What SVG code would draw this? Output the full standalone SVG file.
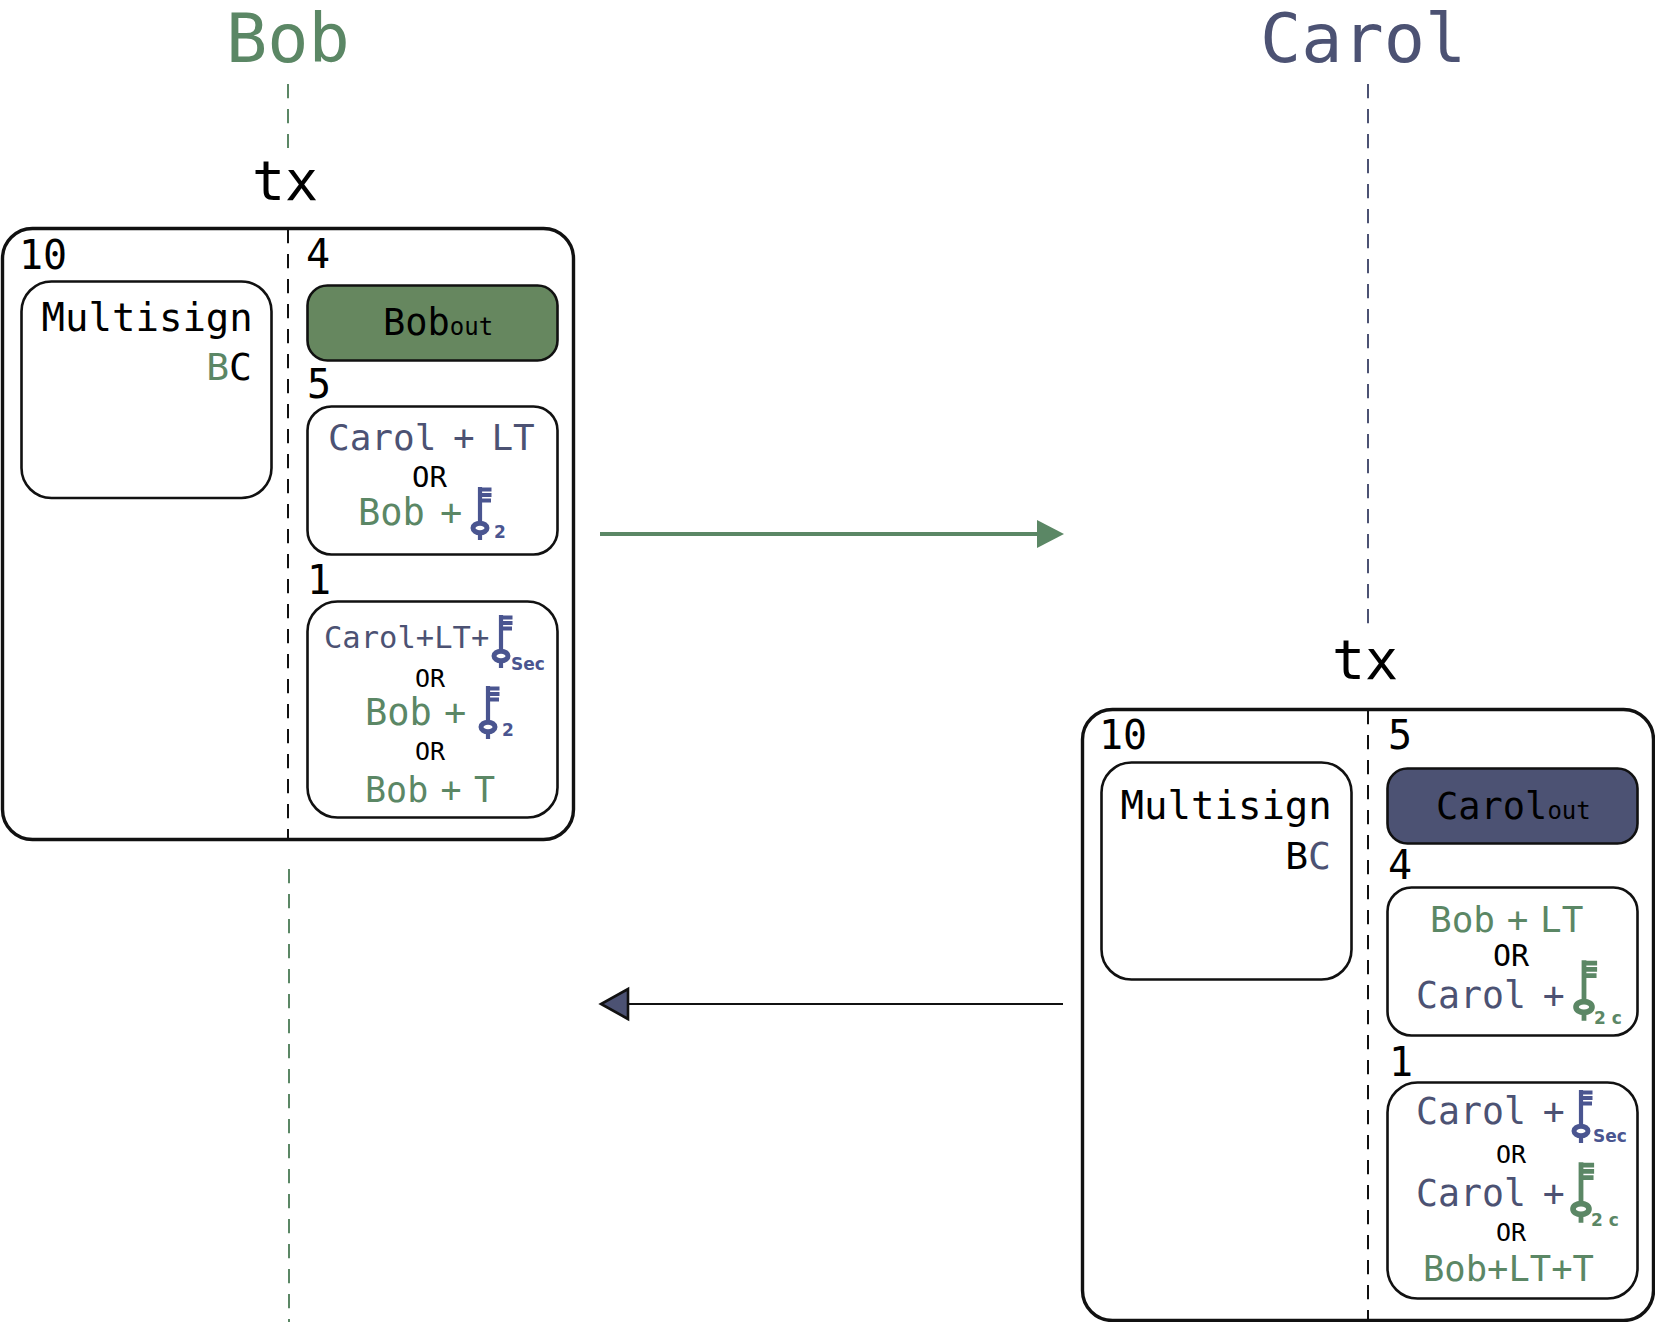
<svg xmlns="http://www.w3.org/2000/svg" xmlns:xlink="http://www.w3.org/1999/xlink" width="1655" height="1322" viewBox="0 0 1655 1322">
<style>
text{font-family:"DejaVu Sans Mono","Liberation Mono",monospace;fill:#000}
.g{fill:#5b8765}.b{fill:#4c5273}
.n{font-size:40px}
.outer{fill:#fff;stroke:#111;stroke-width:3.4}
.inner{fill:#fff;stroke:#111;stroke-width:2.6}
.sub{font-family:"DejaVu Sans",sans-serif;font-weight:700;font-size:17px}
.sb{fill:#4a5590}
.dash{fill:none;stroke-width:2;stroke-dasharray:14.3 10.7}
.kb{stroke:#4a5590;fill:none}.kg{stroke:#5b8765;fill:none}
</style>
<defs>
<marker id="ag" markerUnits="userSpaceOnUse" markerWidth="28" markerHeight="30" refX="0" refY="15" orient="auto"><path d="M0 1L27 15L0 29Z" fill="#5b8765"/></marker>
<marker id="ab" markerUnits="userSpaceOnUse" markerWidth="32" markerHeight="36" refX="2" refY="18" orient="auto"><path d="M2 3L29 18L2 33Z" fill="#4c5273" stroke="#111" stroke-width="2.6"/></marker>
<g id="key"><path d="M0 -41V-6M0 6V12M0 -38.5H11.5M0 -33H11.5M0 -27.5H11" stroke-width="4.2"/><ellipse cx="0" cy="0" rx="7" ry="4.8" stroke-width="5"/></g>
</defs>
<rect width="1655" height="1322" fill="#fff"/>
<g id="connectors">
<path class="dash" stroke="#5b8765" d="M288 84V148"/>
<path class="dash" stroke="#5b8765" d="M289 869V1322"/>
<path class="dash" stroke="#4c5273" d="M1368 84V624"/>
<path d="M600 534H1037" stroke="#5b8765" stroke-width="4" marker-end="url(#ag)"/>
<path d="M1063 1004H628" stroke="#111" stroke-width="2" marker-end="url(#ab)"/>
</g>
<g id="bob-title"><text class="g" x="226" y="62" font-size="68.5">Bob</text></g>
<g id="carol-title"><text class="b" x="1260" y="62" font-size="68.5">Carol</text></g>
<g id="bob-tx">
<text x="252" y="200" font-size="55">tx</text>
<rect class="outer" x="2.5" y="228.5" width="571" height="611" rx="30"/>
<path class="dash" stroke="#111" d="M288 229V839"/>
<text class="n" x="19" y="269">10</text>
<text class="n" x="306" y="268">4</text>
<text class="n" x="307" y="398">5</text>
<text class="n" x="307" y="594">1</text>
</g>
<g id="bob-multisig">
<rect class="inner" x="21.5" y="281.5" width="250" height="216.5" rx="30"/>
<text x="41.5" y="331" font-size="39">Multisign</text>
<text x="252" y="380" font-size="38" text-anchor="end"><tspan class="g">B</tspan>C</text>
</g>
<g id="bob-out">
<rect class="inner" x="307.5" y="285.5" width="250" height="75" rx="20" style="fill:#66875f"/>
<text x="383" y="335" font-size="37">Bob<tspan font-size="24">out</tspan></text>
</g>
<g id="bob-output-5">
<rect class="inner" x="307.5" y="406.5" width="250" height="148" rx="24"/>
<text class="b" x="328" y="450" font-size="36" word-spacing="-5">Carol + LT</text>
<text x="412" y="487" font-size="29">OR</text>
<text class="g" x="358" y="525" font-size="37" word-spacing="-7">Bob +</text>
<use href="#key" x="480" y="528" class="kb"/>
<text class="sub sb" x="494" y="538">2</text>
</g>
<g id="bob-output-1">
<rect class="inner" x="307.5" y="601.5" width="250" height="216" rx="30"/>
<text class="b" x="324" y="648" font-size="30.5">Carol+LT+</text>
<use href="#key" x="501" y="656" class="kb"/>
<text class="sub sb" x="511" y="670">Sec</text>
<text x="415" y="687" font-size="25">OR</text>
<text class="g" x="365" y="725" font-size="37" word-spacing="-10">Bob +</text>
<use href="#key" x="488" y="727" class="kb"/>
<text class="sub sb" x="502" y="736">2</text>
<text x="415" y="760" font-size="25">OR</text>
<text class="g" x="365" y="802" font-size="35" word-spacing="-8.7">Bob + T</text>
</g>
<g id="carol-tx">
<text x="1332" y="679" font-size="55">tx</text>
<rect class="outer" x="1082.5" y="709.5" width="571" height="611" rx="30"/>
<path class="dash" stroke="#111" d="M1368 710V1320"/>
<text class="n" x="1099" y="749">10</text>
<text class="n" x="1388" y="749">5</text>
<text class="n" x="1388" y="879">4</text>
<text class="n" x="1389" y="1076">1</text>
</g>
<g id="carol-multisig">
<rect class="inner" x="1101.5" y="762.5" width="250" height="217" rx="30"/>
<text x="1120.5" y="819" font-size="39">Multisign</text>
<text x="1331" y="869" font-size="38" text-anchor="end">B<tspan class="b">C</tspan></text>
</g>
<g id="carol-out">
<rect class="inner" x="1387.5" y="768.5" width="250" height="75" rx="20" style="fill:#4c5273"/>
<text x="1436" y="819" font-size="37">Carol<tspan font-size="24">out</tspan></text>
</g>
<g id="carol-output-4">
<rect class="inner" x="1387.5" y="887.5" width="250" height="148" rx="24"/>
<text class="g" x="1430" y="932" font-size="36" word-spacing="-10">Bob + LT</text>
<text x="1493" y="966" font-size="30">OR</text>
<text class="b" x="1416" y="1008" font-size="36.5" word-spacing="-5">Carol +</text>
<use href="#key" transform="translate(1584 1007) scale(1.14)" class="kg"/>
<text class="sub g" x="1594" y="1024">2 c</text>
</g>
<g id="carol-output-1">
<rect class="inner" x="1387.5" y="1082.5" width="250" height="216" rx="30"/>
<text class="b" x="1416" y="1124" font-size="36.5" word-spacing="-5">Carol +</text>
<use href="#key" x="1581" y="1131" class="kb"/>
<text class="sub sb" x="1593" y="1142">Sec</text>
<text x="1496" y="1163" font-size="25">OR</text>
<text class="b" x="1416" y="1206" font-size="36.5" word-spacing="-5">Carol +</text>
<use href="#key" transform="translate(1581 1209) scale(1.14)" class="kg"/>
<text class="sub g" x="1591" y="1226">2 c</text>
<text x="1496" y="1241" font-size="25">OR</text>
<text class="g" x="1423" y="1281" font-size="35.5">Bob+LT+T</text>
</g>
</svg>
